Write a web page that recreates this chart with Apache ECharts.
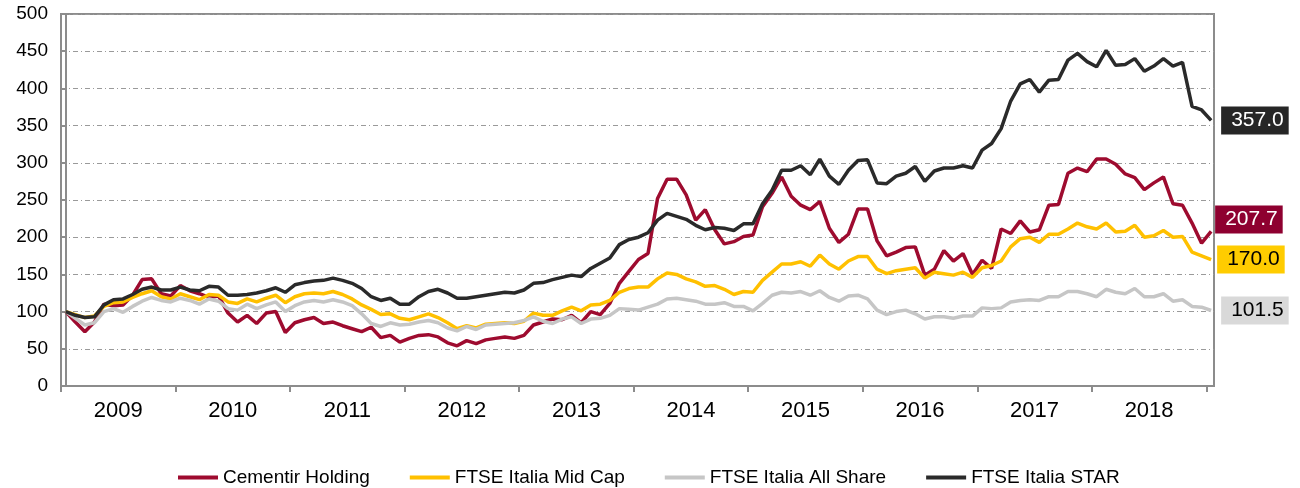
<!DOCTYPE html>
<html>
<head>
<meta charset="utf-8">
<script src="https://cdn.jsdelivr.net/npm/echarts@6/dist/echarts.min.js"></script>
<style>
  html, body { margin: 0; padding: 0; background: #fff; }
  #chart { width: 1300px; height: 488px; }
</style>
</head>
<body>
<div id="chart"></div>
<script>
// monthly index values, Dec 2008 = 100 (121 points up to Dec 2018)
var years = ['2009','2010','2011','2012','2013','2014','2015','2016','2017','2018'];
var seriesNames = ['Cementir Holding','FTSE Italia Mid Cap','FTSE Italia All Share','FTSE Italia STAR'];

var cementir = [100,86,73,86,110,108,109,122,143,144,124,121,
  135,128,124,119,121,98,86,95,84,98,100,72,
  85,89,92,84,86,81,77,73,79,65,68,59,
  64,68,69,66,58,54,61,57,62,64,66,64,
  68,82,86,90,89,95,85,100,96,111,138,154,
  170,178,252,278,278,257,223,237,210,191,194,201,
  203,241,259,281,255,243,237,248,212,193,204,238,
  238,195,175,180,186,187,149,157,182,168,178,150,
  169,158,211,205,222,207,210,243,244,286,293,288,
  305,305,298,285,280,264,273,281,245,243,219,192,207.7];

var midCap = [100,96,92,94,107,112,113,119,124,128,120,117,
  124,120,116,123,122,113,111,117,113,118,122,112,
  120,124,125,124,127,123,117,109,103,96,97,91,
  89,93,97,92,85,77,81,78,83,84,85,84,
  87,98,95,95,101,106,101,109,110,115,126,131,
  133,133,144,152,150,144,140,134,135,130,123,127,
  126,142,153,164,164,167,161,176,164,157,168,174,
  174,157,151,155,157,159,145,153,151,149,153,146,
  159,162,168,187,198,200,193,204,204,211,219,214,
  211,219,207,208,216,200,202,209,200,201,180,175,170.0];

var allShare = [100,91,82,85,100,104,99,107,114,119,115,113,
  118,115,110,117,114,104,102,110,104,109,113,100,
  108,113,115,113,116,113,108,97,84,80,85,82,
  83,86,88,85,78,74,80,76,82,83,84,85,
  88,93,87,84,90,93,84,90,91,95,104,103,
  102,106,110,117,118,116,114,110,110,112,107,107,
  101,111,122,126,125,127,122,128,119,114,121,122,
  117,102,96,100,102,97,90,93,93,91,94,94,
  105,104,105,113,115,116,115,120,120,127,127,124,
  120,130,126,124,131,120,120,124,114,116,107,106,101.5];

var star = [100,95,92,93,109,116,117,123,130,133,129,129,
  133,129,128,134,133,122,122,123,125,128,132,126,
  136,139,141,142,145,142,138,131,120,115,118,110,
  110,120,127,130,125,118,118,120,122,124,126,125,
  129,138,139,143,146,149,147,158,165,172,190,197,
  200,206,223,232,228,224,216,210,213,212,209,218,
  218,245,263,290,290,296,284,305,282,271,290,303,
  304,273,272,282,286,295,275,289,293,293,296,293,
  317,326,346,383,406,412,395,411,412,438,447,436,
  429,451,431,432,440,423,430,440,430,435,376,371,357.0];

var lineColors = ['#9e0b2f','#ffc000','#c6c6c6','#2a2a2a'];
var boxColors = ['#8e0030','#ffcc00','#d9d9d9','#262626'];
var boxText = ['#ffffff','#000000','#000000','#ffffff'];
var labelOffsets = [[4,-12],[6,0],[10,0],[10,0]];

var chart = echarts.init(document.getElementById('chart'));

var tickVals = [];
var labelVals = [];
for (var k = 0; k <= years.length; k++) {
  tickVals.push(k * 12 - 0.5);
  if (k < years.length) labelVals.push(k * 12 + 5.5);
}

function toPairs(arr) {
  return arr.map(function (v, i) { return [i, v]; });
}

var allData = [cementir, midCap, allShare, star];
var series = allData.map(function (arr, s) {
  return {
    name: seriesNames[s],
    type: 'line',
    data: toPairs(arr),
    showSymbol: false,
    symbol: 'none',
    lineStyle: { color: lineColors[s], width: 3.5 },
    itemStyle: { color: lineColors[s] },
    endLabel: {
      show: true,
      distance: 0,
      offset: labelOffsets[s],
      formatter: function (p) { return p.value[1].toFixed(1); },
      backgroundColor: boxColors[s],
      color: boxText[s],
      fontFamily: 'Liberation Sans, Arial, sans-serif',
      fontSize: 21,
      lineHeight: 21,
      padding: [4, 5, 3, 10]
    }
  };
});

var option = {
  animation: false,
  backgroundColor: '#ffffff',
  grid: {
    left: 61, right: 86, top: 14, bottom: 102,
    show: true,
    borderColor: '#8c8c8c',
    borderWidth: 2
  },
  legend: {
    left: 173,
    top: 463,
    icon: 'rect',
    itemWidth: 40,
    itemHeight: 4,
    itemGap: 40,
    textStyle: {
      fontFamily: 'Liberation Sans, Arial, sans-serif',
      fontSize: 19,
      color: '#000'
    },
    data: seriesNames
  },
  xAxis: {
    type: 'value',
    min: -0.5,
    max: 120.3,
    splitLine: { show: false },
    axisLine: { lineStyle: { color: '#8c8c8c', width: 2 } },
    axisTick: {
      customValues: tickVals,
      length: 6,
      lineStyle: { color: '#8c8c8c', width: 2 }
    },
    axisLabel: {
      customValues: labelVals,
      margin: 14,
      color: '#000',
      fontFamily: 'Liberation Sans, Arial, sans-serif',
      fontSize: 22,
      formatter: function (v) { return years[Math.floor((v + 0.5) / 12)]; }
    }
  },
  yAxis: {
    type: 'value',
    min: 0,
    max: 500,
    interval: 50,
    axisLine: { show: true, lineStyle: { color: '#8c8c8c', width: 2 } },
    axisTick: { show: true, length: 5, lineStyle: { color: '#8c8c8c', width: 2 } },
    axisLabel: {
      margin: 13,
      color: '#000',
      fontFamily: 'Liberation Sans, Arial, sans-serif',
      fontSize: 19
    },
    splitLine: {
      lineStyle: { color: '#9a9a9a', width: 1, type: [5, 3, 1, 3] }
    }
  },
  series: series
};

chart.setOption(option);
</script>
</body>
</html>
